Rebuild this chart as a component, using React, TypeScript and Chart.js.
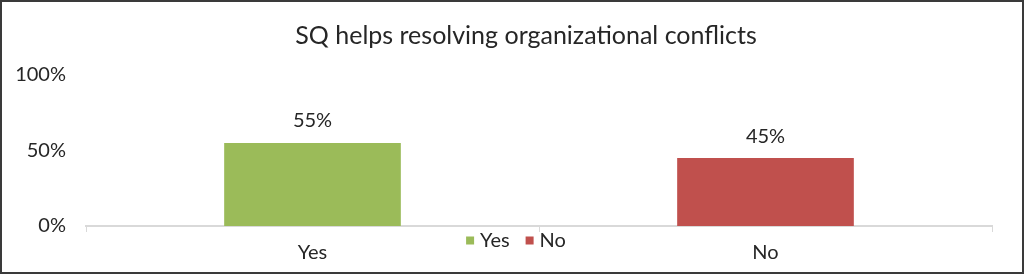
import React, { useEffect, useRef } from "react";
import { Chart, registerables } from "chart.js";

Chart.register(...registerables);

const TITLE = "SQ helps resolving organizational conflicts";
const CATEGORIES = ["Yes", "No"];
const VALUES = [55, 45];
const COLORS = ["#9BBB59", "#C0504D"];
const Y_MIN = 0;
const Y_MAX = 100;
const Y_STEP = 50;

const FONT = "Lato, 'Open Sans', sans-serif";
const TEXT = "#262626";
const AXIS = "#D9D9D9";

const chartTitle = {
  id: "chartTitle",
  afterDraw(chart: any) {
    const ctx = chart.ctx;
    ctx.save();
    ctx.font = `25px ${FONT}`;
    ctx.fillStyle = TEXT;
    ctx.textAlign = "center";
    ctx.textBaseline = "middle";
    ctx.fillText(TITLE, 526, 36);
    ctx.restore();
  },
};

const dataLabels = {
  id: "dataLabels",
  afterDatasetsDraw(chart: any) {
    const ctx = chart.ctx;
    const meta = chart.getDatasetMeta(0);
    ctx.save();
    ctx.font = `20px ${FONT}`;
    ctx.fillStyle = TEXT;
    ctx.textAlign = "center";
    ctx.textBaseline = "middle";
    meta.data.forEach((el: any, i: number) => {
      const v = chart.data.datasets[0].data[i];
      ctx.fillText(`${v}%`, el.x, el.y - 22);
    });
    ctx.restore();
  },
};

const bottomLegend = {
  id: "bottomLegend",
  afterDraw(chart: any) {
    const ctx = chart.ctx;
    const labels: string[] = chart.data.labels;
    const colors: string[] = chart.data.datasets[0].backgroundColor;
    ctx.save();
    ctx.font = `20px ${FONT}`;
    ctx.textBaseline = "middle";
    ctx.textAlign = "left";
    const box = 8;
    const gap = 6;
    const itemGap = 16;
    const widths = labels.map((l) => box + gap + ctx.measureText(l).width);
    const total = widths.reduce((a, b) => a + b, 0) + itemGap * (labels.length - 1);
    const cx = 516;
    const cy = 240.5;
    let x = cx - total / 2;
    labels.forEach((l, i) => {
      ctx.fillStyle = colors[i];
      ctx.fillRect(x, cy - box / 2, box, box);
      ctx.fillStyle = TEXT;
      ctx.fillText(l, x + box + gap, cy);
      x += widths[i] + itemGap;
    });
    ctx.restore();
  },
};

export default function App() {
  const ref = useRef<HTMLCanvasElement | null>(null);

  useEffect(() => {
    if (!ref.current) return;
    const chart = new Chart(ref.current, {
      type: "bar",
      data: {
        labels: CATEGORIES,
        datasets: [
          {
            label: "Share",
            data: VALUES,
            backgroundColor: COLORS,
            borderWidth: 0,
            categoryPercentage: 1,
            barPercentage: 0.39,
          },
        ],
      },
      options: {
        responsive: false,
        animation: false,
        devicePixelRatio: 1,
        layout: { padding: { left: 0, right: 32, top: 75, bottom: 0 } },
        plugins: {
          legend: { display: false },
          tooltip: { enabled: false },
          title: { display: false },
        },
        scales: {
          x: {
            grid: {
              display: true,
              drawOnChartArea: false,
              drawTicks: true,
              tickLength: 6,
              color: AXIS,
              lineWidth: 1,
              offset: true,
            },
            border: { display: true, color: AXIS, width: 2 },
            ticks: {
              color: TEXT,
              font: { family: FONT, size: 20 },
              padding: 9,
            },
            afterFit: (s: any) => {
              s.height = 48;
            },
          },
          y: {
            min: Y_MIN,
            max: Y_MAX,
            grid: { display: false, drawTicks: false },
            border: { display: false },
            ticks: {
              stepSize: Y_STEP,
              color: TEXT,
              font: { family: FONT, size: 20 },
              padding: 20,
              callback: (v: any) => `${v}%`,
            },
            afterFit: (s: any) => {
              s.width = 86;
            },
          },
        },
      },
      plugins: [chartTitle, dataLabels, bottomLegend],
    });
    return () => chart.destroy();
  }, []);

  return (
    <div style={{ position: "fixed", left: 0, top: 0, width: 1024, height: 274, background: "#fff" }}>
      <canvas ref={ref} width={1024} height={274} style={{ display: "block", width: 1024, height: 274 }} />
      <div
        style={{
          position: "absolute",
          left: 0,
          top: 0,
          width: 1024,
          height: 274,
          boxSizing: "border-box",
          border: "2px solid #3a3a3a",
          pointerEvents: "none",
        }}
      />
    </div>
  );
}
